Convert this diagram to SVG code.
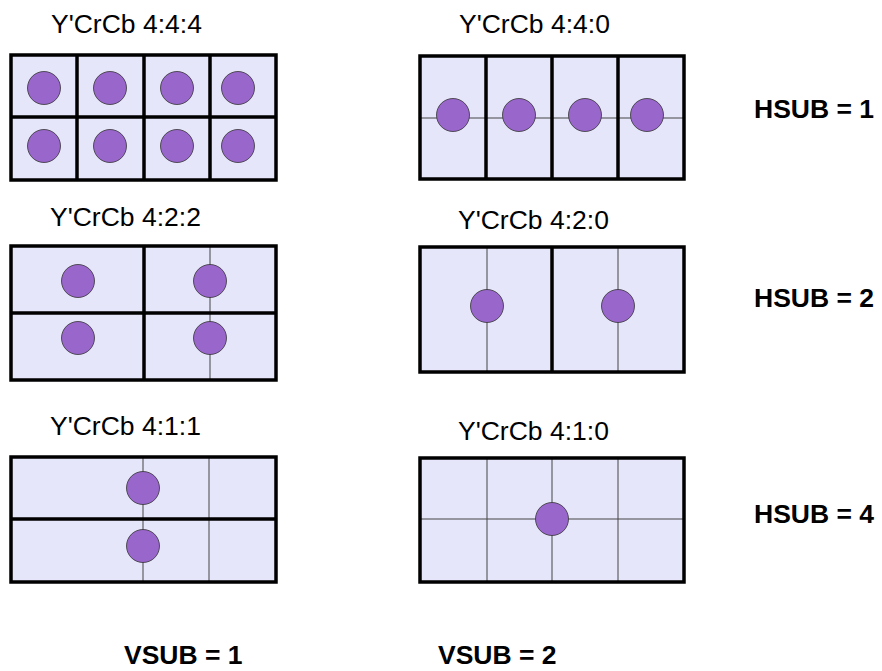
<svg xmlns="http://www.w3.org/2000/svg" width="882" height="671" viewBox="0 0 882 671">
<style>
.bg{fill:#e6e6fa;stroke:none}
.thick{stroke:#000;stroke-width:3.5;fill:none;stroke-linecap:square}
.thin{stroke:#444;stroke-width:1}
.dot{fill:#9966cc;stroke:#333;stroke-width:0.8}
.lbl{font-family:"Liberation Sans",Arial,sans-serif;font-size:26.5px;fill:#000}
.sub{font-family:"Liberation Sans",Arial,sans-serif;font-size:26.5px;font-weight:bold;fill:#000}
</style>
<rect width="882" height="671" fill="#fff"/>

<g id="g444">
<text class="lbl" x="51" y="33">Y'CrCb 4:4:4</text>
<rect class="bg" x="11" y="55" width="265" height="125"/>
<path class="thick" d="M11 55H276V180H11Z M77 55V180 M144 55V180 M210 55V180 M11 117H276"/>
<circle class="dot" cx="44" cy="88" r="16.5"/>
<circle class="dot" cx="110" cy="88" r="16.5"/>
<circle class="dot" cx="177" cy="88" r="16.5"/>
<circle class="dot" cx="238" cy="88" r="16.5"/>
<circle class="dot" cx="44" cy="146" r="16.5"/>
<circle class="dot" cx="110" cy="146" r="16.5"/>
<circle class="dot" cx="177" cy="146" r="16.5"/>
<circle class="dot" cx="238" cy="146" r="16.5"/>
</g>

<g id="g440">
<text class="lbl" x="459" y="33">Y'CrCb 4:4:0</text>
<rect class="bg" x="420" y="56" width="264" height="123"/>
<line class="thin" x1="420" y1="118" x2="684" y2="118"/>
<path class="thick" d="M420 56H684V179H420Z M486 56V179 M552 56V179 M618 56V179"/>
<circle class="dot" cx="453" cy="115" r="16.5"/>
<circle class="dot" cx="519" cy="115" r="16.5"/>
<circle class="dot" cx="585" cy="115" r="16.5"/>
<circle class="dot" cx="647" cy="115" r="16.5"/>
</g>

<g id="g422">
<text class="lbl" x="50" y="226">Y'CrCb 4:2:2</text>
<rect class="bg" x="11" y="246" width="265" height="134"/>
<line class="thin" x1="210" y1="246" x2="210" y2="380"/>
<path class="thick" d="M11 246H276V380H11Z M144 246V380 M11 313H276"/>
<circle class="dot" cx="78" cy="281" r="16.5"/>
<circle class="dot" cx="210" cy="281" r="16.5"/>
<circle class="dot" cx="78" cy="338" r="16.5"/>
<circle class="dot" cx="210" cy="338" r="16.5"/>
</g>

<g id="g420">
<text class="lbl" x="458" y="229">Y'CrCb 4:2:0</text>
<rect class="bg" x="420" y="247" width="264" height="125"/>
<line class="thin" x1="487" y1="247" x2="487" y2="372"/>
<line class="thin" x1="618" y1="247" x2="618" y2="372"/>
<path class="thick" d="M420 247H684V372H420Z M552 247V372"/>
<circle class="dot" cx="487" cy="306" r="16.5"/>
<circle class="dot" cx="618" cy="306" r="16.5"/>
</g>

<g id="g411">
<text class="lbl" x="50" y="435">Y'CrCb 4:1:1</text>
<rect class="bg" x="11" y="457" width="265" height="125"/>
<line class="thin" x1="143" y1="457" x2="143" y2="582"/>
<line class="thin" x1="209" y1="457" x2="209" y2="582"/>
<path class="thick" d="M11 457H276V582H11Z M11 519H276"/>
<circle class="dot" cx="143" cy="488" r="16.5"/>
<circle class="dot" cx="143" cy="546" r="16.5"/>
</g>

<g id="g410">
<text class="lbl" x="458" y="440">Y'CrCb 4:1:0</text>
<rect class="bg" x="420" y="458" width="264" height="124"/>
<line class="thin" x1="487" y1="458" x2="487" y2="582"/>
<line class="thin" x1="552" y1="458" x2="552" y2="582"/>
<line class="thin" x1="618" y1="458" x2="618" y2="582"/>
<line class="thin" x1="420" y1="519" x2="684" y2="519"/>
<path class="thick" d="M420 458H684V582H420Z"/>
<circle class="dot" cx="552" cy="519" r="16.5"/>
</g>

<g id="labels">
<text class="sub" x="754" y="118">HSUB = 1</text>
<text class="sub" x="754" y="307">HSUB = 2</text>
<text class="sub" x="754" y="523">HSUB = 4</text>
<text class="sub" x="124" y="664">VSUB = 1</text>
<text class="sub" x="438" y="664">VSUB = 2</text>
</g>
<g id="connectors"></g>
</svg>
